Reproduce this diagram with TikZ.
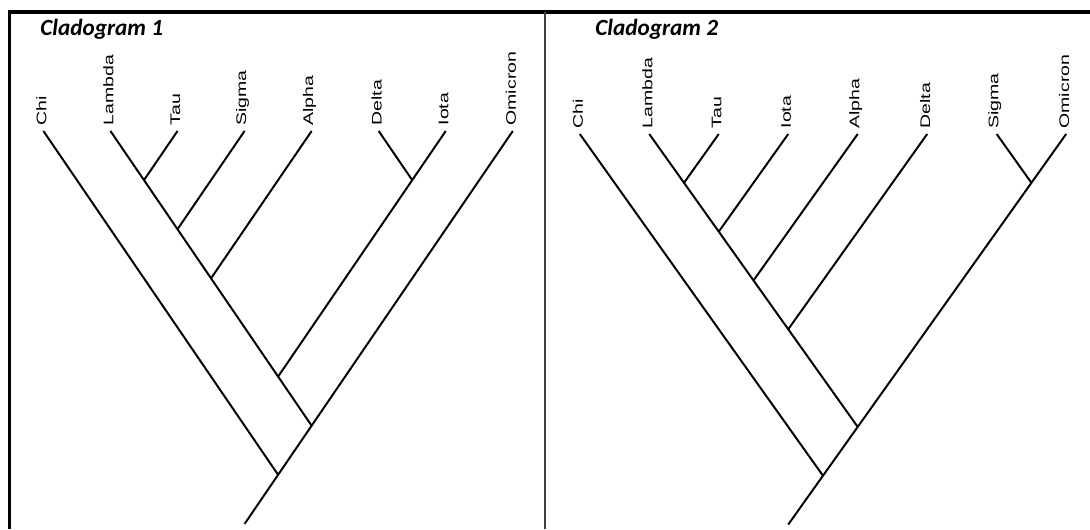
\documentclass[tikz,border=0pt]{standalone}
\usepackage{fontspec}
\usetikzlibrary{calc}
\newfontfamily\taxonfont{Liberation Sans}
\newfontfamily\headfont{Carlito}
\begin{document}
\begin{tikzpicture}[x=0.025cm, y=-0.025cm,
		branch/.style = {draw, line width=1.4pt},
		taxon/.style = {rotate=90, xscale=1.4, anchor=west, inner sep=0pt, font=\taxonfont\fontsize{9.9}{12}\selectfont},
		cladetitle/.style = {anchor=base west, inner sep=0pt, font=\headfont\bfseries\itshape\fontsize{16.5}{19}\selectfont}]
	\useasboundingbox (0,0) rectangle (1090,529);
	\fill[white] (0,0) rectangle (1090,529);
	\draw[line width=2.8pt] (1090,12) -- (9.5,12) -- (9.5,529);
	\draw[line width=1.1pt, black!75] (545,12) -- (545,529);
	\node [cladetitle] (title1) at (40,35) {Cladogram 1};
	\node [cladetitle] (title2) at (595,35) {Cladogram 2};
	% Cladogram 1
	\begin{scope}[shift={(43.4,131)}, x=1.676cm, y=-2.455cm]
		\foreach \name [count=\i from 0] in {Chi,Lambda,Tau,Sigma,Alpha,Delta,Iota,Omicron} {
			\coordinate (p\i) at (\i,0);
			\node [taxon] (p\i-label) at ($(p\i)+(-0.05cm,0.13cm)$) {\name};
		}
		\coordinate (pLT) at (1.5,0.5);
		\coordinate (pS) at (2,1);
		\coordinate (pA) at (2.5,1.5);
		\coordinate (pDI) at (5.5,0.5);
		\coordinate (pI) at (3.5,2.5);
		\coordinate (pO) at (4,3);
		\coordinate (pC) at (3.5,3.5);
		\coordinate (proot) at (3,4);
		\path [branch] (p1) -- (pO);
		\path [branch] (p7) -- (proot);
		\path [branch] (p0) -- (pC);
		\path [branch] (p2) -- (pLT);
		\path [branch] (p3) -- (pS);
		\path [branch] (p4) -- (pA);
		\path [branch] (p6) -- (pI);
		\path [branch] (p5) -- (pDI);
	\end{scope}
	% Cladogram 2
	\begin{scope}[shift={(579.8,134)}, x=1.7365cm, y=-2.44cm]
		\foreach \name [count=\i from 0] in {Chi,Lambda,Tau,Iota,Alpha,Delta,Sigma,Omicron} {
			\coordinate (q\i) at (\i,0);
			\node [taxon] (q\i-label) at ($(q\i)+(-0.05cm,0.13cm)$) {\name};
		}
		\coordinate (qLT) at (1.5,0.5);
		\coordinate (qI) at (2,1);
		\coordinate (qA) at (2.5,1.5);
		\coordinate (qD) at (3,2);
		\coordinate (qSO) at (6.5,0.5);
		\coordinate (qO) at (4,3);
		\coordinate (qC) at (3.5,3.5);
		\coordinate (qroot) at (3,4);
		\path [branch] (q1) -- (qO);
		\path [branch] (q7) -- (qroot);
		\path [branch] (q0) -- (qC);
		\path [branch] (q2) -- (qLT);
		\path [branch] (q3) -- (qI);
		\path [branch] (q4) -- (qA);
		\path [branch] (q5) -- (qD);
		\path [branch] (q6) -- (qSO);
	\end{scope}
\end{tikzpicture}
\end{document}
